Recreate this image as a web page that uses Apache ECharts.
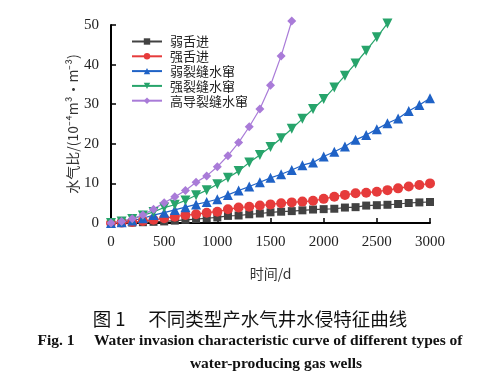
<!DOCTYPE html>
<html>
<head>
<meta charset="utf-8">
<script src="https://cdn.jsdelivr.net/npm/echarts@6/dist/echarts.min.js"></script>
<style>html,body{margin:0;padding:0;background:#fff;}#c{width:500px;height:390px;}</style>
</head>
<body>
<div id="c"></div>
<script>
const days = [0,100,200,300,400,500,600,700,800,900,1000,1100,1200,1300,1400,1500,1600,1700,1800,1900,2000,2100,2200,2300,2400,2500,2600,2700,2800,2900,3000];
const seriesNames = ['弱舌进','强舌进','弱裂缝水窜','强裂缝水窜','高导裂缝水窜'];
const weakTongue = [0,0.05,0.1,0.2,0.3,0.4,0.6,0.8,1.0,1.2,1.4,1.8,1.9,2.2,2.4,2.7,2.85,3.0,3.2,3.4,3.5,3.6,3.9,4.0,4.4,4.5,4.6,4.8,5.05,5.2,5.3];
const strongTongue = [0,0.1,0.25,0.5,0.8,1.2,1.6,2.0,2.2,2.6,2.85,3.45,3.9,4.1,4.4,4.7,5.0,5.2,5.4,5.6,6.1,6.65,7.1,7.5,7.65,7.9,8.3,8.75,9.2,9.6,10.0];
const weakFracture = [0,0.2,0.6,1.2,2.0,2.6,3.3,4.0,4.7,5.3,6.0,7.1,8.2,9.2,10.3,11.4,12.3,13.4,14.6,15.3,16.8,18.0,19.3,21.0,22.2,23.7,25.2,26.4,28.3,29.8,31.5];
const strongFracture = [0,0.4,1.0,1.9,2.8,3.9,4.6,5.7,7.0,8.3,9.8,11.4,13.1,15.3,17.2,19.2,21.4,23.8,26.3,28.8,31.3,34.2,37.2,40.3,43.5,46.9,50.4];
const highFracture = [0,0.4,1.1,2.0,3.5,5.1,6.6,8.2,10.3,11.9,14.2,17.0,20.3,24.3,28.8,34.8,42.2,51.0];
const xTicks = [0,500,1000,1500,2000,2500,3000];
const yTicks = [0,10,20,30,40,50];
const captionCn = '图 1\u3000 不同类型产水气井水侵特征曲线';
const captionEn1 = 'Fig. 1\u2003 Water invasion characteristic curve of different types of';
const captionEn2 = 'water-producing gas wells';
const xName = '时间/d';
const yName = '水气比/(10⁻⁴m³·m⁻³)';

const valueLists = [weakTongue, strongTongue, weakFracture, strongFracture, highFracture];
const colors = ['#424242','#e63b3b','#1f62c6','#27a46b','#a97bd8'];
const symbols = ['rect','circle','triangle','triangle','diamond'];
const symbolSizes = [8,10,10,10,9];
const rotations = [0,0,0,180,0];

const serif = "'Liberation Serif','DejaVu Serif','Noto Sans CJK SC',serif";
const cjk = "'Noto Sans CJK SC','Liberation Serif',sans-serif";

const chart = echarts.init(document.getElementById('c'), null, {renderer:'canvas'});
const series = seriesNames.map((n,i)=>({
  name:n, type:'line',
  data: valueLists[i].map((v,j)=>[days[j], v]),
  symbol: symbols[i], symbolSize: symbolSizes[i], symbolRotate: rotations[i],
  showAllSymbol:true, clip:false,
  itemStyle:{color:colors[i]},
  lineStyle:{color:colors[i], width:1.2},
  emphasis:{disabled:true},
  animation:false
}));

chart.setOption({
  animation:false,
  backgroundColor:'#fff',
  grid:{left:111, right:70, top:25, bottom:167, containLabel:false},
  legend:{
    orient:'vertical', left:126, top:30, itemGap:1.8, itemWidth:30, itemHeight:8,
    data: seriesNames,
    textStyle:{fontFamily:cjk, fontSize:13, color:'#222', padding:[0,0,0,3]}
  },
  xAxis:{
    type:'value', min:0, max:3000, interval:500,
    name:xName, nameLocation:'middle', nameGap:44, nameMoveOverlap:false,
    nameTextStyle:{fontFamily:cjk, fontSize:14, color:'#333'},
    axisLine:{onZero:false, lineStyle:{color:'#000', width:2}},
    axisTick:{inside:true, length:5, lineStyle:{color:'#000', width:1.5}},
    axisLabel:{fontFamily:serif, fontSize:15, color:'#222', margin:12,
      formatter:v=>xTicks.includes(v)?String(v):''},
    splitLine:{show:false}
  },
  yAxis:{
    type:'value', min:0, max:50, interval:10,
    name:yName, nameLocation:'middle', nameGap:31, nameMoveOverlap:false,
    nameTextStyle:{fontFamily:cjk, fontSize:14, color:'#333'},
    axisLine:{show:true, lineStyle:{color:'#000', width:2}},
    axisTick:{show:true, inside:true, length:5, lineStyle:{color:'#000', width:1.5}},
    axisLabel:{fontFamily:serif, fontSize:15, color:'#222', margin:12,
      formatter:v=>yTicks.includes(v)?String(v):''},
    splitLine:{show:false}
  },
  graphic:[
    {type:'text', x:250, y:319, style:{text:captionCn, font:"18.5px 'Noto Sans CJK SC'", fill:'#111', align:'center', verticalAlign:'middle'}},
    {type:'text', x:250, y:341, style:{text:captionEn1, font:"bold 15.5px 'Liberation Serif'", fill:'#111', align:'center', verticalAlign:'middle'}},
    {type:'text', x:276, y:364, style:{text:captionEn2, font:"bold 15.5px 'Liberation Serif'", fill:'#111', align:'center', verticalAlign:'middle'}}
  ],
  series: series
});
</script>
</body>
</html>
